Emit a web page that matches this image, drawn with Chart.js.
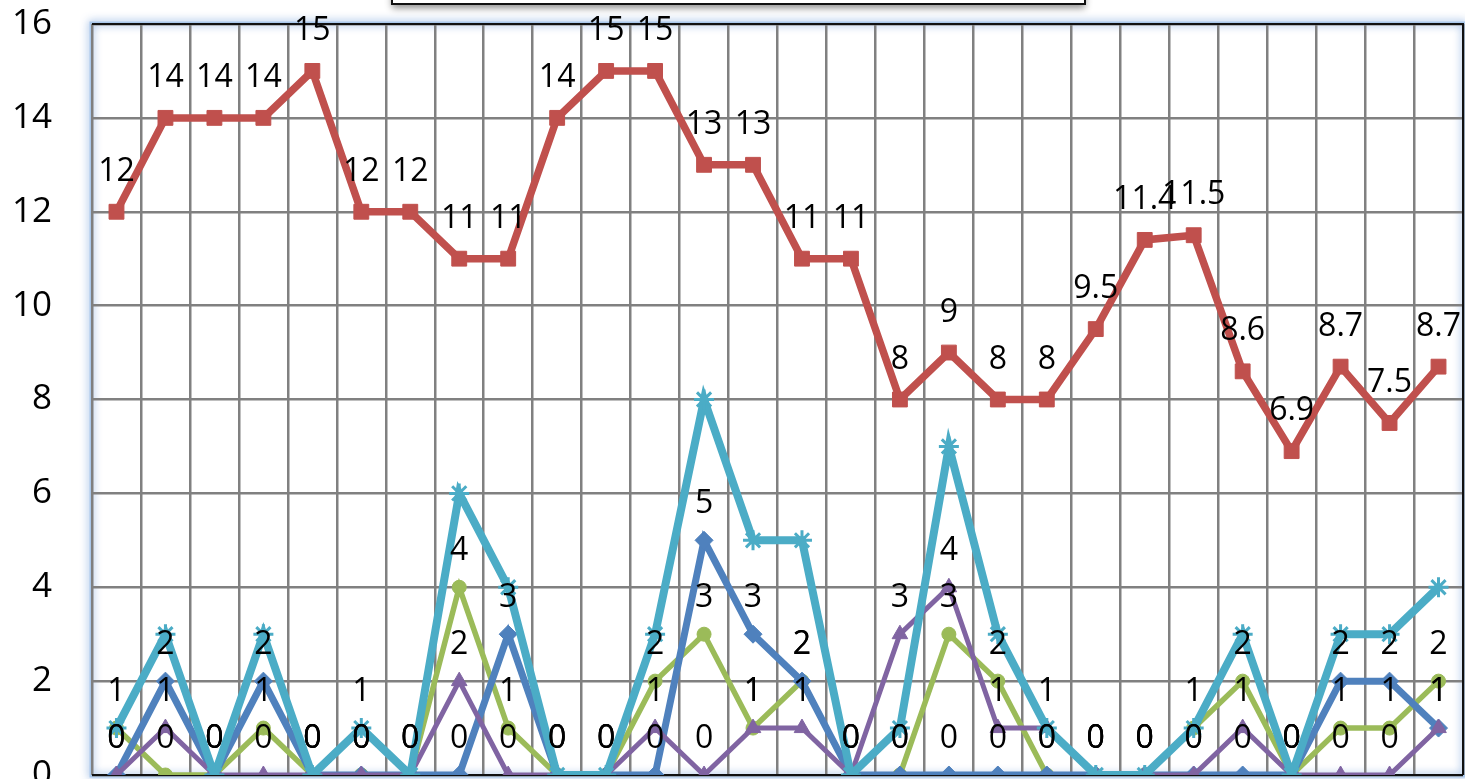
<!DOCTYPE html>
<html>
<head>
<meta charset="utf-8">
<script src="https://cdn.jsdelivr.net/npm/chart.js@4"></script>
<style>
html, body { margin: 0; padding: 0; background: #fff; overflow: hidden; }
canvas { display: block; }
</style>
</head>
<body>
<canvas id="myChart" width="1465" height="779"></canvas>
<script>
const categories = ["1","2","3","4","5","6","7","8","9","10","11","12","13","14",
	"15","16","17","18","19","20","21","22","23","24","25","26","27","28"];
const yTicks = [0, 2, 4, 6, 8, 10, 12, 14, 16];

const redVals = [12,14,14,14,15,12,12,11,11,14,15,15,13,13,11,11,8,9,8,8,9.5,11.4,11.5,8.6,6.9,8.7,7.5,8.7];
const blueVals = [0,2,0,2,0,0,0,0,3,0,0,0,5,3,2,0,0,0,0,0,0,0,0,0,0,2,2,1];
const greenVals = [1,0,0,1,0,0,0,4,1,0,0,2,3,1,2,0,0,3,2,0,0,0,1,2,0,1,1,2];
const purpleVals = [0,1,0,0,0,0,0,2,0,0,0,1,0,1,1,0,3,4,1,1,0,0,0,1,0,0,0,1];
const cyanVals = [1,3,0,3,0,1,0,6,4,0,0,3,8,5,5,0,1,7,3,1,0,0,1,3,0,3,3,4];
// a label with no line of its own
const extraVals = [null,null,null,null,null,1,null,null,null,null,null,null,null,null,
	null,null,null,null,null,null,null,null,null,null,null,null,null,null];

// draws the value of each point above it
const valueLabels = {
	id: "valueLabels",
	afterDatasetsDraw(chart) {
		const ctx = chart.ctx;
		ctx.save();
		ctx.font = '32px "Open Sans"';
		ctx.fillStyle = "#000";
		ctx.textAlign = "center";
		ctx.textBaseline = "middle";
		chart.data.datasets.forEach((ds, i) => {
			if (!ds.showLabels) return;
			const meta = chart.getDatasetMeta(i);
			meta.data.forEach((pt, j) => {
				const v = ds.data[j];
				if (v == null) return;
				ctx.fillText(String(v), pt.x, pt.y - ds.labelGap);
			});
		});
		ctx.restore();
	}
};

// glow round the plot, title box cut at the top, dark frame lines
const frame = {
	id: "frame",
	beforeDraw(chart) {
		const ctx = chart.ctx;
		const a = chart.chartArea;
		ctx.save();
		ctx.fillStyle = "#fff";
		ctx.fillRect(0, 0, chart.width, chart.height);
		ctx.shadowColor = "rgba(90,140,210,0.9)";
		ctx.shadowBlur = 9;
		ctx.strokeStyle = "rgba(170,200,235,1)";
		ctx.lineWidth = 3;
		ctx.strokeRect(a.left - 1, a.top - 1, a.right - a.left + 2, a.bottom - a.top + 2);
		ctx.restore();
	},
	beforeDatasetsDraw(chart) {
		const ctx = chart.ctx;
		const a = chart.chartArea;
		ctx.save();
		ctx.strokeStyle = "#111";
		ctx.lineWidth = 2;
		ctx.beginPath();
		ctx.moveTo(a.left, a.top);
		ctx.lineTo(a.right, a.top);
		ctx.lineTo(a.right, a.bottom);
		ctx.moveTo(a.left, a.bottom);
		ctx.lineTo(a.right, a.bottom);
		ctx.stroke();
		ctx.restore();
	},
	afterDraw(chart) {
		const ctx = chart.ctx;
		ctx.save();
		ctx.shadowColor = "rgba(0,0,0,0.45)";
		ctx.shadowBlur = 7;
		ctx.shadowOffsetY = 4;
		ctx.fillStyle = "#fff";
		ctx.fillRect(392, -20, 693, 24);
		ctx.shadowColor = "transparent";
		ctx.strokeStyle = "#111";
		ctx.lineWidth = 2;
		ctx.strokeRect(392, -20, 693, 24);
		ctx.restore();
	}
};

const chartid = document.getElementById("myChart");
const chart = new Chart(chartid, {
	type: "line",
	data: {
		labels: categories,
		datasets: [
			{
				data: cyanVals, borderColor: "#4BACC6", backgroundColor: "#4BACC6",
				borderWidth: 8, pointStyle: "star", pointRadius: 10, pointBorderWidth: 3,
				order: 1, showLabels: false
			},
			{
				data: purpleVals, borderColor: "#8064A2", backgroundColor: "#8064A2",
				borderWidth: 5, pointStyle: "triangle", pointRadius: 9, pointBorderWidth: 1,
				order: 2, showLabels: true, labelGap: 36
			},
			{
				data: greenVals, borderColor: "#9BBB59", backgroundColor: "#9BBB59",
				borderWidth: 5.5, pointStyle: "circle", pointRadius: 7, pointBorderWidth: 1,
				order: 4, showLabels: true, labelGap: 36
			},
			{
				data: blueVals, borderColor: "#4F81BD", backgroundColor: "#4F81BD",
				borderWidth: 7, pointStyle: "rectRot", pointRadius: 9, pointBorderWidth: 1,
				order: 3, showLabels: true, labelGap: 36
			},
			{
				data: redVals, borderColor: "#C0504D", backgroundColor: "#C0504D",
				borderWidth: 7.5, pointStyle: "rect", pointRadius: 10.5, pointBorderWidth: 1,
				order: 5, showLabels: true, labelGap: 40
			},
			{
				data: extraVals, showLine: false, pointRadius: 0, borderWidth: 0,
				order: 6, showLabels: true, labelGap: 36
			}
		]
	},
	options: {
		responsive: false,
		animation: false,
		devicePixelRatio: 1,
		layout: { autoPadding: false, padding: { left: 0, top: 24, right: 2, bottom: 4 } },
		plugins: {
			legend: { display: false },
			title: { display: false },
			tooltip: { enabled: false }
		},
		scales: {
			x: {
				offset: true,
				grid: { offset: true, color: "#808080", lineWidth: 2.5, drawTicks: false },
				border: { display: false },
				ticks: { display: false }
			},
			y: {
				min: 0,
				max: 16,
				afterBuildTicks: s => { s.ticks = yTicks.map(v => ({ value: v })); },
				afterFit: s => { s.width = 92; },
				grid: { color: "#808080", lineWidth: 2.5, drawTicks: true, tickLength: 40, tickColor: "rgba(0,0,0,0)" },
				border: { display: false },
				ticks: {
					color: "#000",
					padding: 0,
					font: { family: "Open Sans", size: 35, lineHeight: 0.1 }
				}
			}
		}
	},
	plugins: [frame, valueLabels]
});
</script>
</body>
</html>
